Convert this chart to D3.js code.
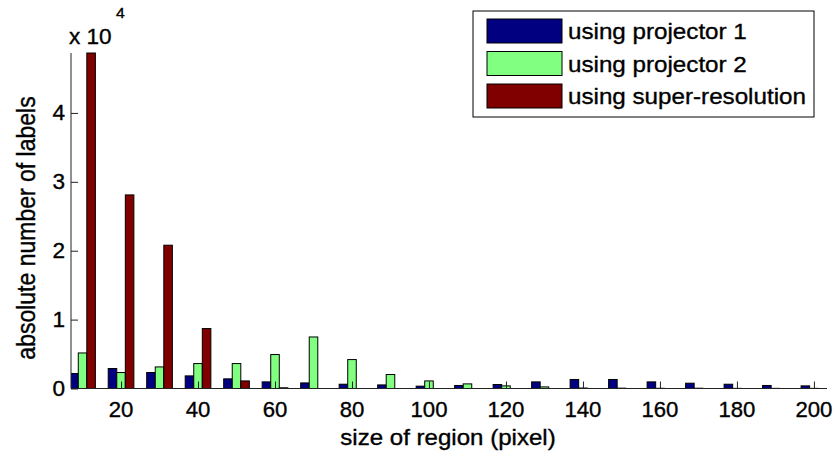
<!DOCTYPE html>
<html lang="en">
<head>
  <meta charset="utf-8" />
  <title>Labels per region size</title>
  <script src="https://d3js.org/d3.v7.min.js"></script>
  <style>
    body { margin: 0; background: #fff; }
    svg text { font-family: "Liberation Sans", Arial, Helvetica, sans-serif; fill: #000; stroke: #000; stroke-width: 0.35px; }
  </style>
</head>
<body>
  <svg id="chart" width="838" height="452"></svg>
  <script>
    // region sizes (pixel)
    const categories = [10, 20, 30, 40, 50, 60, 70, 80, 90, 100, 110, 120, 130, 140, 150, 160, 170, 180, 190, 200];
    const projector1 = [2180, 2900, 2320, 1830, 1400, 960, 810, 620, 520, 340, 440, 580, 960, 1310, 1310, 960, 770, 620, 440, 380];
    const projector2 = [5160, 2320, 3130, 3620, 3620, 4930, 7480, 4200, 2030, 1100, 670, 380, 230, 70, 50, 30, 40, 20, 20, 20];
    const superRes = [48700, 28100, 20800, 8700, 1100, 100, 0, 0, 0, 0, 0, 0, 0, 0, 0, 0, 0, 0, 0, 0];
    const seriesNames = ["using projector 1", "using projector 2", "using super-resolution"];
    const seriesColors = ["#000080", "#80ff80", "#800000"];
    const xTicks = [20, 40, 60, 80, 100, 120, 140, 160, 180, 200];
    const yTicks = [0, 10000, 20000, 30000, 40000];

    const series = [projector1, projector2, superRes];
    const svg = d3.select("#chart");

    const plotL = 71, plotR = 827, plotT = 53, plotB = 388.5;
    const x = d3.scaleLinear().domain([7, 203.4]).range([plotL, plotR]);
    const y = d3.scaleLinear().domain([0, 48700]).range([plotB, plotT]);

    // grouped bars sit side by side, like matlab's bar()
    const step = x(20) - x(10);
    const bw = step * (2 / 3) / 3;

    svg.append("clipPath").attr("id", "plot")
      .append("rect").attr("x", plotL).attr("y", plotT - 2)
      .attr("width", plotR - plotL).attr("height", plotB - plotT + 2);

    const bars = svg.append("g").attr("clip-path", "url(#plot)");
    series.forEach((vals, s) => {
      bars.selectAll(null)
        .data(vals)
        .enter()
        .append("rect")
        .attr("x", (d, i) => x(categories[i]) + (s - 1.5) * bw)
        .attr("y", d => y(d))
        .attr("width", bw)
        .attr("height", d => plotB - y(d))
        .attr("fill", seriesColors[s])
        .attr("stroke", "#000")
        .attr("stroke-width", 1);
    });

    // text in the reference is a bit wide, so stretch it sideways
    function label(g, px, py, str, size, sx, anchor) {
      return g.append("g")
        .attr("transform", `translate(${px},${py}) scale(${sx},1)`)
        .append("text")
        .attr("font-size", size)
        .attr("text-anchor", anchor)
        .text(str);
    }

    // x axis
    const xAxis = svg.append("g").attr("transform", `translate(0,${plotB})`)
      .call(d3.axisBottom(x).tickValues(xTicks).tickSize(-7).tickFormat(""));
    xAxis.select(".domain").attr("d", `M${plotL},0H${plotR}`);
    xAxis.selectAll("line, path").attr("stroke", "#222");
    xTicks.forEach(t => label(svg, x(t), plotB + 28, t, 21.5, 1.03, "middle"));

    // y axis
    const yAxis = svg.append("g").attr("transform", `translate(${plotL},0)`)
      .call(d3.axisLeft(y).tickValues(yTicks).tickSize(-7).tickFormat(""));
    yAxis.select(".domain").attr("d", `M0,${plotT}V${plotB}`);
    yAxis.selectAll("line, path").attr("stroke", "#222");
    yTicks.forEach(t => label(svg, 65, y(t) + 7.5, t / 10000, 21.5, 1.05, "end"));

    // exponent
    label(svg, 69, 44, "x 10", 21.5, 1.05, "start");
    label(svg, 116, 18, "4", 15, 1.05, "start");

    // axis titles
    label(svg, 448, 445, "size of region (pixel)", 21.5, 1.12, "middle");
    svg.append("g")
      .attr("transform", "translate(35,228) scale(1.12,1) rotate(-90)")
      .append("text")
      .attr("font-size", 23)
      .attr("text-anchor", "middle")
      .text("absolute number of labels");

    // legend
    const lg = svg.append("g");
    lg.append("rect").attr("x", 473).attr("y", 11).attr("width", 341).attr("height", 106)
      .attr("fill", "#fff").attr("stroke", "#000");
    seriesNames.forEach((name, i) => {
      const ry = 19 + i * 32.5;
      lg.append("rect").attr("x", 487).attr("y", ry).attr("width", 75).attr("height", 24)
        .attr("fill", seriesColors[i]).attr("stroke", "#000");
      label(lg, 568, ry + 20, name, 22, 1.1, "start");
    });
  </script>
</body>
</html>
